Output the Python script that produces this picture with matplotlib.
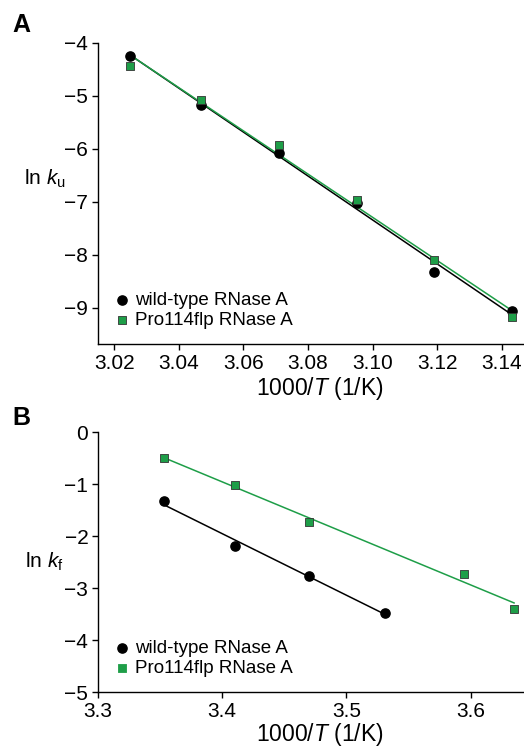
import numpy as np
import matplotlib
matplotlib.use("Agg")
import matplotlib.pyplot as plt

plt.rcParams["font.family"] = ["Liberation Sans", "DejaVu Sans"]
plt.rcParams["mathtext.fontset"] = "custom"
plt.rcParams["mathtext.it"] = "Liberation Sans:italic"
plt.rcParams["mathtext.rm"] = "Liberation Sans"

GREEN = "#1e9e48"

# Panel A: unfolding
xa_wt = [3.025, 3.047, 3.071, 3.095, 3.119, 3.143]
ya_wt = [-4.25, -5.17, -6.08, -7.02, -8.33, -9.05]
xa_flp = [3.025, 3.047, 3.071, 3.095, 3.119, 3.143]
ya_flp = [-4.43, -5.07, -5.93, -6.97, -8.10, -9.17]

# Panel B: folding
xb_wt = [3.353, 3.410, 3.470, 3.531]
yb_wt = [-1.32, -2.20, -2.76, -3.48]
xb_flp = [3.353, 3.410, 3.470, 3.595, 3.635]
yb_flp = [-0.50, -1.02, -1.73, -2.73, -3.40]

labels = ["wild-type RNase A", "Pro114flp RNase A"]

fig = plt.figure(figsize=(5.24, 7.49), dpi=100)
ax_a = fig.add_axes([0.187, 0.5407, 0.813, 0.402])
ax_b = fig.add_axes([0.187, 0.0761, 0.813, 0.3471])


def fit_line(ax, x, y, color):
    m, b = np.polyfit(x, y, 1)
    xs = np.array([min(x), max(x)])
    ax.plot(xs, m * xs + b, color=color, lw=1.1, zorder=2)


def style(ax):
    for s in ["top", "right"]:
        ax.spines[s].set_visible(False)
    for s in ["left", "bottom"]:
        ax.spines[s].set_linewidth(1.0)
    ax.tick_params(direction="out", length=4, width=1, labelsize=15, pad=3)


# --- A ---
fit_line(ax_a, xa_wt, ya_wt, "black")
fit_line(ax_a, xa_flp, ya_flp, GREEN)
ax_a.scatter(xa_wt, ya_wt, s=44, color="black", zorder=3, label=labels[0])
ax_a.scatter(xa_flp, ya_flp, s=30, marker="s", color=GREEN, edgecolors="#333333",
             linewidths=0.6, zorder=4, label=labels[1])
ax_a.set_xlim(3.015, 3.1468)
ax_a.set_ylim(-9.68, -4)
ax_a.set_xticks([3.02, 3.04, 3.06, 3.08, 3.10, 3.12, 3.14])
ax_a.set_xticklabels(["3.02", "3.04", "3.06", "3.08", "3.10", "3.12", "3.14"])
ax_a.set_yticks([-4, -5, -6, -7, -8, -9])
ax_a.set_yticklabels(["\u22124", "\u22125", "\u22126", "\u22127", "\u22128", "\u22129"])
style(ax_a)
ax_a.set_xlabel("1000/$\\mathit{T}$ (1/K)", fontsize=16.5)
ax_a.xaxis.set_label_coords(0.52, -0.103)
ax_a.set_ylabel("ln $\\mathit{k}_{\\mathrm{u}}$", fontsize=15, rotation=0, va="center")
ax_a.yaxis.set_label_coords(-0.125, 0.55)
ax_a.legend(loc="lower left", frameon=False, fontsize=13.5, handletextpad=0.2,
            borderaxespad=0.2, labelspacing=0.15, handlelength=1.0, borderpad=0.6)

# --- B ---
fit_line(ax_b, xb_wt, yb_wt, "black")
fit_line(ax_b, xb_flp, yb_flp, GREEN)
ax_b.scatter(xb_wt, yb_wt, s=44, color="black", zorder=3, label=labels[0])
ax_b.scatter(xb_flp, yb_flp, s=30, marker="s", color=GREEN, edgecolors="#333333",
             linewidths=0.6, zorder=4, label=labels[1])
ax_b.set_xlim(3.3, 3.643)
ax_b.set_ylim(-5, 0)
ax_b.set_xticks([3.3, 3.4, 3.5, 3.6])
ax_b.set_yticks([0, -1, -2, -3, -4, -5])
ax_b.set_yticklabels(["0", "\u22121", "\u22122", "\u22123", "\u22124", "\u22125"])
style(ax_b)
ax_b.set_xlabel("1000/$\\mathit{T}$ (1/K)", fontsize=16.5)
ax_b.xaxis.set_label_coords(0.52, -0.112)
ax_b.set_ylabel("ln $\\mathit{k}_{\\mathrm{f}}$", fontsize=15, rotation=0, va="center")
ax_b.yaxis.set_label_coords(-0.125, 0.5)
leg = ax_b.legend(loc="lower left", frameon=False, fontsize=13.5, handletextpad=0.2,
                  borderaxespad=0.2, labelspacing=0.15, handlelength=1.0, borderpad=0.6)
leg.legend_handles[1].set_edgecolor(GREEN)

fig.text(0.023, 0.957, "A", fontsize=18, fontweight="bold")
fig.text(0.023, 0.433, "B", fontsize=18, fontweight="bold")

fig.savefig("out.png", dpi=100)
